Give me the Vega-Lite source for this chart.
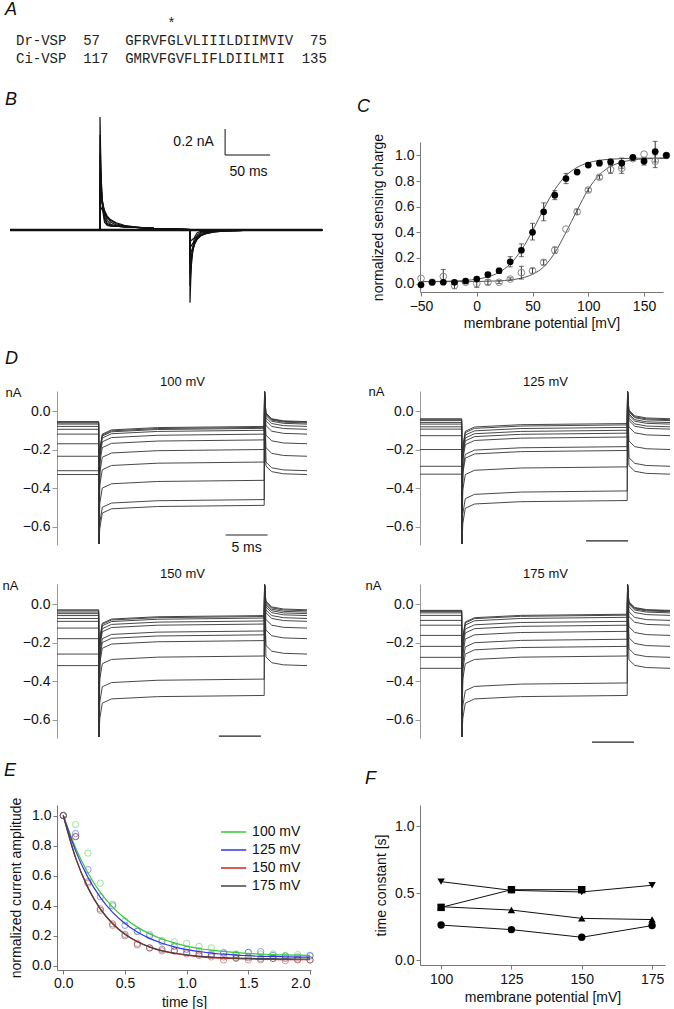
{
"$schema": "https://vega.github.io/schema/vega-lite/v6.json",
"padding": 0,
"background": "white",
"config": {
 "view": {"stroke": "transparent"},
 "font": "Liberation Sans",
 "axis": {"labelFont": "Liberation Sans", "titleFont": "Liberation Sans", "labelFontSize": 14, "titleFontSize": 14, "titleFontWeight": "normal", "labelColor": "#111", "titleColor": "#111", "domainColor": "#777", "tickColor": "#777", "tickSize": 4, "grid": false, "labelPadding": 2},
 "title": {"font": "Liberation Sans", "fontSize": 18, "fontStyle": "italic", "fontWeight": "normal", "anchor": "start", "color": "#111", "frame": "group"}
},
"resolve": {"legend": {"color": "independent"}, "scale": {"color": "independent"}},
"datasets": {
 "dtr": [
  {"p":"100 mV","tr":1,"t":[0,4.97,5.0,5.1,5.4,6.5,12,24.7,24.74,24.9,25.6,27,29.8],"i":[-0.055,-0.055,-0.69,-0.2,-0.12,-0.098,-0.086,-0.08,0.1,-0.01,-0.04,-0.051,-0.055]},
  {"p":"100 mV","tr":2,"t":[0,4.97,5.0,5.1,5.4,6.5,12,24.7,24.74,24.9,25.6,27,29.8],"i":[-0.058,-0.058,-0.69,-0.205,-0.125,-0.103,-0.091,-0.085,0.1,-0.013,-0.043,-0.054,-0.058]},
  {"p":"100 mV","tr":3,"t":[0,4.97,5.0,5.1,5.4,6.5,12,24.7,24.74,24.9,25.6,27,29.8],"i":[-0.062,-0.062,-0.69,-0.21,-0.13,-0.108,-0.096,-0.09,0.1,-0.017,-0.047,-0.058,-0.062]},
  {"p":"100 mV","tr":4,"t":[0,4.97,5.0,5.1,5.4,6.5,12,24.7,24.74,24.9,25.6,27,29.8],"i":[-0.068,-0.068,-0.69,-0.22,-0.14,-0.118,-0.106,-0.1,0.1,-0.023,-0.053,-0.064,-0.068]},
  {"p":"100 mV","tr":5,"t":[0,4.97,5.0,5.1,5.4,6.5,12,24.7,24.74,24.9,25.6,27,29.8],"i":[-0.08,-0.08,-0.69,-0.24,-0.16,-0.138,-0.126,-0.12,0.1,-0.035,-0.065,-0.076,-0.08]},
  {"p":"100 mV","tr":6,"t":[0,4.97,5.0,5.1,5.4,6.5,12,24.7,24.74,24.9,25.6,27,29.8],"i":[-0.095,-0.095,-0.69,-0.27,-0.19,-0.168,-0.156,-0.15,0.1,-0.05,-0.08,-0.091,-0.095]},
  {"p":"100 mV","tr":7,"t":[0,4.97,5.0,5.1,5.4,6.5,12,24.7,24.74,24.9,25.6,27,29.8],"i":[-0.12,-0.12,-0.69,-0.32,-0.24,-0.218,-0.206,-0.2,0.1,-0.075,-0.105,-0.116,-0.12]},
  {"p":"100 mV","tr":8,"t":[0,4.97,5.0,5.1,5.4,6.5,12,24.7,24.74,24.9,25.6,27,29.8],"i":[-0.17,-0.17,-0.69,-0.385,-0.305,-0.283,-0.271,-0.265,0.1,-0.125,-0.155,-0.166,-0.17]},
  {"p":"100 mV","tr":9,"t":[0,4.97,5.0,5.1,5.4,6.5,12,24.7,24.74,24.9,25.6,27,29.8],"i":[-0.235,-0.235,-0.69,-0.48,-0.4,-0.378,-0.366,-0.36,0.1,-0.19,-0.22,-0.231,-0.235]},
  {"p":"100 mV","tr":10,"t":[0,4.97,5.0,5.1,5.4,6.5,12,24.7,24.74,24.9,25.6,27,29.8],"i":[-0.31,-0.31,-0.69,-0.58,-0.5,-0.478,-0.466,-0.46,0.1,-0.265,-0.295,-0.306,-0.31]},
  {"p":"100 mV","tr":11,"t":[0,4.97,5.0,5.1,5.4,6.5,12,24.7,24.74,24.9,25.6,27,29.8],"i":[-0.33,-0.33,-0.69,-0.61,-0.53,-0.508,-0.496,-0.49,0.1,-0.285,-0.315,-0.326,-0.33]},
  {"p":"125 mV","tr":1,"t":[0,4.97,5.0,5.1,5.4,6.5,12,24.7,24.74,24.9,25.6,27,29.8],"i":[-0.04,-0.04,-0.69,-0.185,-0.105,-0.083,-0.071,-0.065,0.1,0.005,-0.025,-0.036,-0.04]},
  {"p":"125 mV","tr":2,"t":[0,4.97,5.0,5.1,5.4,6.5,12,24.7,24.74,24.9,25.6,27,29.8],"i":[-0.045,-0.045,-0.69,-0.192,-0.112,-0.09,-0.078,-0.072,0.1,0,-0.03,-0.041,-0.045]},
  {"p":"125 mV","tr":3,"t":[0,4.97,5.0,5.1,5.4,6.5,12,24.7,24.74,24.9,25.6,27,29.8],"i":[-0.05,-0.05,-0.69,-0.205,-0.125,-0.103,-0.091,-0.085,0.1,-0.005,-0.035,-0.046,-0.05]},
  {"p":"125 mV","tr":4,"t":[0,4.97,5.0,5.1,5.4,6.5,12,24.7,24.74,24.9,25.6,27,29.8],"i":[-0.06,-0.06,-0.69,-0.22,-0.14,-0.118,-0.106,-0.1,0.1,-0.015,-0.045,-0.056,-0.06]},
  {"p":"125 mV","tr":5,"t":[0,4.97,5.0,5.1,5.4,6.5,12,24.7,24.74,24.9,25.6,27,29.8],"i":[-0.068,-0.068,-0.69,-0.235,-0.155,-0.133,-0.121,-0.115,0.1,-0.023,-0.053,-0.064,-0.068]},
  {"p":"125 mV","tr":6,"t":[0,4.97,5.0,5.1,5.4,6.5,12,24.7,24.74,24.9,25.6,27,29.8],"i":[-0.082,-0.082,-0.69,-0.255,-0.175,-0.153,-0.141,-0.135,0.1,-0.037,-0.067,-0.078,-0.082]},
  {"p":"125 mV","tr":7,"t":[0,4.97,5.0,5.1,5.4,6.5,12,24.7,24.74,24.9,25.6,27,29.8],"i":[-0.094,-0.094,-0.69,-0.305,-0.225,-0.203,-0.191,-0.185,0.1,-0.049,-0.079,-0.09,-0.094]},
  {"p":"125 mV","tr":8,"t":[0,4.97,5.0,5.1,5.4,6.5,12,24.7,24.74,24.9,25.6,27,29.8],"i":[-0.128,-0.128,-0.69,-0.325,-0.245,-0.223,-0.211,-0.205,0.1,-0.083,-0.113,-0.124,-0.128]},
  {"p":"125 mV","tr":9,"t":[0,4.97,5.0,5.1,5.4,6.5,12,24.7,24.74,24.9,25.6,27,29.8],"i":[-0.2,-0.2,-0.69,-0.41,-0.33,-0.308,-0.296,-0.29,0.1,-0.155,-0.185,-0.196,-0.2]},
  {"p":"125 mV","tr":10,"t":[0,4.97,5.0,5.1,5.4,6.5,12,24.7,24.74,24.9,25.6,27,29.8],"i":[-0.287,-0.287,-0.69,-0.535,-0.455,-0.433,-0.421,-0.415,0.1,-0.242,-0.272,-0.283,-0.287]},
  {"p":"125 mV","tr":11,"t":[0,4.97,5.0,5.1,5.4,6.5,12,24.7,24.74,24.9,25.6,27,29.8],"i":[-0.328,-0.328,-0.69,-0.585,-0.505,-0.483,-0.471,-0.465,0.1,-0.283,-0.313,-0.324,-0.328]},
  {"p":"150 mV","tr":1,"t":[0,4.97,5.0,5.1,5.4,6.5,12,24.7,24.74,24.9,25.6,27,29.8],"i":[-0.03,-0.03,-0.69,-0.18,-0.1,-0.078,-0.066,-0.06,0.1,0.015,-0.015,-0.026,-0.03]},
  {"p":"150 mV","tr":2,"t":[0,4.97,5.0,5.1,5.4,6.5,12,24.7,24.74,24.9,25.6,27,29.8],"i":[-0.035,-0.035,-0.69,-0.185,-0.105,-0.083,-0.071,-0.065,0.1,0.01,-0.02,-0.031,-0.035]},
  {"p":"150 mV","tr":3,"t":[0,4.97,5.0,5.1,5.4,6.5,12,24.7,24.74,24.9,25.6,27,29.8],"i":[-0.042,-0.042,-0.69,-0.193,-0.113,-0.091,-0.079,-0.073,0.1,0.003,-0.027,-0.038,-0.042]},
  {"p":"150 mV","tr":4,"t":[0,4.97,5.0,5.1,5.4,6.5,12,24.7,24.74,24.9,25.6,27,29.8],"i":[-0.05,-0.05,-0.69,-0.208,-0.128,-0.106,-0.094,-0.088,0.1,-0.005,-0.035,-0.046,-0.05]},
  {"p":"150 mV","tr":5,"t":[0,4.97,5.0,5.1,5.4,6.5,12,24.7,24.74,24.9,25.6,27,29.8],"i":[-0.06,-0.06,-0.69,-0.224,-0.144,-0.122,-0.11,-0.104,0.1,-0.015,-0.045,-0.056,-0.06]},
  {"p":"150 mV","tr":6,"t":[0,4.97,5.0,5.1,5.4,6.5,12,24.7,24.74,24.9,25.6,27,29.8],"i":[-0.075,-0.075,-0.69,-0.26,-0.18,-0.158,-0.146,-0.14,0.1,-0.03,-0.06,-0.071,-0.075]},
  {"p":"150 mV","tr":7,"t":[0,4.97,5.0,5.1,5.4,6.5,12,24.7,24.74,24.9,25.6,27,29.8],"i":[-0.09,-0.09,-0.69,-0.28,-0.2,-0.178,-0.166,-0.16,0.1,-0.045,-0.075,-0.086,-0.09]},
  {"p":"150 mV","tr":8,"t":[0,4.97,5.0,5.1,5.4,6.5,12,24.7,24.74,24.9,25.6,27,29.8],"i":[-0.125,-0.125,-0.69,-0.31,-0.23,-0.208,-0.196,-0.19,0.1,-0.08,-0.11,-0.121,-0.125]},
  {"p":"150 mV","tr":9,"t":[0,4.97,5.0,5.1,5.4,6.5,12,24.7,24.74,24.9,25.6,27,29.8],"i":[-0.18,-0.18,-0.69,-0.39,-0.31,-0.288,-0.276,-0.27,0.1,-0.135,-0.165,-0.176,-0.18]},
  {"p":"150 mV","tr":10,"t":[0,4.97,5.0,5.1,5.4,6.5,12,24.7,24.74,24.9,25.6,27,29.8],"i":[-0.26,-0.26,-0.69,-0.51,-0.43,-0.408,-0.396,-0.39,0.1,-0.215,-0.245,-0.256,-0.26]},
  {"p":"150 mV","tr":11,"t":[0,4.97,5.0,5.1,5.4,6.5,12,24.7,24.74,24.9,25.6,27,29.8],"i":[-0.32,-0.32,-0.69,-0.595,-0.515,-0.493,-0.481,-0.475,0.1,-0.275,-0.305,-0.316,-0.32]},
  {"p":"175 mV","tr":1,"t":[0,4.97,5.0,5.1,5.4,6.5,12,24.7,24.74,24.9,25.6,27,29.8],"i":[-0.033,-0.033,-0.69,-0.173,-0.093,-0.071,-0.059,-0.053,0.1,0.012,-0.018,-0.029,-0.033]},
  {"p":"175 mV","tr":2,"t":[0,4.97,5.0,5.1,5.4,6.5,12,24.7,24.74,24.9,25.6,27,29.8],"i":[-0.036,-0.036,-0.69,-0.178,-0.098,-0.076,-0.064,-0.058,0.1,0.009,-0.021,-0.032,-0.036]},
  {"p":"175 mV","tr":3,"t":[0,4.97,5.0,5.1,5.4,6.5,12,24.7,24.74,24.9,25.6,27,29.8],"i":[-0.04,-0.04,-0.69,-0.189,-0.109,-0.087,-0.075,-0.069,0.1,0.005,-0.025,-0.036,-0.04]},
  {"p":"175 mV","tr":4,"t":[0,4.97,5.0,5.1,5.4,6.5,12,24.7,24.74,24.9,25.6,27,29.8],"i":[-0.046,-0.046,-0.69,-0.21,-0.13,-0.108,-0.096,-0.09,0.1,-0.001,-0.031,-0.042,-0.046]},
  {"p":"175 mV","tr":5,"t":[0,4.97,5.0,5.1,5.4,6.5,12,24.7,24.74,24.9,25.6,27,29.8],"i":[-0.059,-0.059,-0.69,-0.23,-0.15,-0.128,-0.116,-0.11,0.1,-0.014,-0.044,-0.055,-0.059]},
  {"p":"175 mV","tr":6,"t":[0,4.97,5.0,5.1,5.4,6.5,12,24.7,24.74,24.9,25.6,27,29.8],"i":[-0.085,-0.085,-0.69,-0.262,-0.182,-0.16,-0.148,-0.142,0.1,-0.04,-0.07,-0.081,-0.085]},
  {"p":"175 mV","tr":7,"t":[0,4.97,5.0,5.1,5.4,6.5,12,24.7,24.74,24.9,25.6,27,29.8],"i":[-0.11,-0.11,-0.69,-0.303,-0.223,-0.201,-0.189,-0.183,0.1,-0.065,-0.095,-0.106,-0.11]},
  {"p":"175 mV","tr":8,"t":[0,4.97,5.0,5.1,5.4,6.5,12,24.7,24.74,24.9,25.6,27,29.8],"i":[-0.163,-0.163,-0.69,-0.34,-0.26,-0.238,-0.226,-0.22,0.1,-0.118,-0.148,-0.159,-0.163]},
  {"p":"175 mV","tr":9,"t":[0,4.97,5.0,5.1,5.4,6.5,12,24.7,24.74,24.9,25.6,27,29.8],"i":[-0.22,-0.22,-0.69,-0.39,-0.31,-0.288,-0.276,-0.27,0.1,-0.175,-0.205,-0.216,-0.22]},
  {"p":"175 mV","tr":10,"t":[0,4.97,5.0,5.1,5.4,6.5,12,24.7,24.74,24.9,25.6,27,29.8],"i":[-0.277,-0.277,-0.69,-0.53,-0.45,-0.428,-0.416,-0.41,0.1,-0.232,-0.262,-0.273,-0.277]},
  {"p":"175 mV","tr":11,"t":[0,4.97,5.0,5.1,5.4,6.5,12,24.7,24.74,24.9,25.6,27,29.8],"i":[-0.334,-0.334,-0.69,-0.595,-0.515,-0.493,-0.481,-0.475,0.1,-0.289,-0.319,-0.33,-0.334]}
 ],
 "dbar": [
  {"p":"100 mV","t1":20.1,"t2":25.1,"y":-0.644},
  {"p":"125 mV","t1":19.8,"t2":24.8,"y":-0.675},
  {"p":"150 mV","t1":19.3,"t2":24.3,"y":-0.686},
  {"p":"175 mV","t1":20.5,"t2":25.5,"y":-0.717}
 ]
},
"columns": 4,
"bounds": "flush",
"align": "each",
"spacing": {"row": 0, "column": 0},
"concat": [
 {"width": 57, "height": 140, "data": {"values": []}, "mark": {"type": "point", "opacity": 0}, "encoding": {}},
 {
  "width": 250, "height": 140,
  "title": {"text": "A", "dx": -52, "offset": -17},
  "layer": [
   {
    "data": {"values": [
     {"col": 0, "row": 1.05, "txt": "Dr-VSP\u00a0\u00a057\u00a0\u00a0\u00a0GFRVFGLVLIIILDIIMVIV\u00a0\u00a075"},
     {"col": 0, "row": 2.05, "txt": "Ci-VSP\u00a0\u00a0117\u00a0\u00a0GMRVFGVFLIFLDIILMII\u00a0\u00a0135"}
    ]},
    "mark": {"type": "text", "align": "left", "baseline": "middle", "font": "Liberation Mono", "fontSize": 14, "color": "#222"},
    "encoding": {
     "x": {"field": "col", "type": "quantitative", "scale": {"domain": [4.881, 34.643], "nice": false, "zero": false}, "axis": null},
     "y": {"field": "row", "type": "quantitative", "scale": {"domain": [-1.111, 6.667], "reverse": true, "nice": false, "zero": false}, "axis": null},
     "text": {"field": "txt"}
    }
   },
   {
    "data": {"values": [{"col": 18.5, "row": 0.1, "txt": "*"}]},
    "mark": {"type": "text", "align": "center", "baseline": "middle", "font": "Liberation Mono", "fontSize": 14, "color": "#222"},
    "encoding": {
     "x": {"field": "col", "type": "quantitative"},
     "y": {"field": "row", "type": "quantitative"},
     "text": {"field": "txt"}
    }
   }
  ]
 },
 {"width": 109, "height": 1, "data": {"values": []}, "mark": {"type": "point", "opacity": 0}, "encoding": {}},
 {"width": 1, "height": 1, "data": {"values": []}, "mark": {"type": "point", "opacity": 0}, "encoding": {}},

 {"width": 57, "height": 1, "data": {"values": []}, "mark": {"type": "point", "opacity": 0}, "encoding": {}},
 {
  "width": 250, "height": 249,
  "title": {"text": "B", "dx": -52, "offset": 5.4},
  "layer": [
   {
    "data": {"values": [
     {"tr":1,"t":[0,99.9,100,101,102,103,105,108,112,118,127,140,160,199.9,200,201,202,203,205,208,212,218,227,240,260,299.9,347],"i":[0,0,0.87,0.48,0.26,0.15,0.06,0.035,0.03,0.03,0.025,0.02,0.012,0.004,-0.56,-0.344,-0.212,-0.133,-0.055,-0.02,-0.011,-0.01,-0.008,-0.005,-0.002,0,0]},
     {"tr":2,"t":[0,99.9,100,101,102,103,105,108,112,118,127,140,160,199.9,200,201,202,203,205,208,212,218,227,240,260,299.9,347],"i":[0,0,0.73,0.455,0.288,0.186,0.087,0.043,0.032,0.03,0.025,0.02,0.012,0.004,-0.43,-0.311,-0.225,-0.165,-0.089,-0.039,-0.018,-0.011,-0.008,-0.005,-0.002,0,0]},
     {"tr":3,"t":[0,99.9,100,101,102,103,105,108,112,118,127,140,160,199.9,200,201,202,203,205,208,212,218,227,240,260,299.9,347],"i":[0,0,0.58,0.398,0.277,0.196,0.104,0.053,0.034,0.03,0.025,0.02,0.012,0.004,-0.34,-0.267,-0.21,-0.166,-0.105,-0.055,-0.027,-0.014,-0.008,-0.005,-0.002,0,0]},
     {"tr":4,"t":[0,99.9,100,101,102,103,105,108,112,118,127,140,160,199.9,200,201,202,203,205,208,212,218,227,240,260,299.9,347],"i":[0,0,0.45,0.345,0.267,0.208,0.131,0.073,0.043,0.033,0.025,0.02,0.012,0.004,-0.26,-0.219,-0.184,-0.155,-0.111,-0.068,-0.038,-0.02,-0.01,-0.005,-0.002,0,0]},
     {"tr":5,"t":[0,99.9,100,101,102,103,105,108,112,118,127,140,160,199.9,200,201,202,203,205,208,212,218,227,240,260,299.9,347],"i":[0,0,0.35,0.292,0.244,0.206,0.148,0.095,0.059,0.039,0.026,0.02,0.012,0.004,-0.2,-0.175,-0.153,-0.134,-0.103,-0.071,-0.044,-0.024,-0.012,-0.006,-0.002,0,0]},
     {"tr":6,"t":[0,99.9,100,101,102,103,105,108,112,118,127,140,160,199.9,200,201,202,203,205,208,212,218,227,240,260,299.9,347],"i":[0,0,0.27,0.238,0.21,0.186,0.148,0.107,0.073,0.048,0.03,0.021,0.012,0.004,-0.14,-0.126,-0.114,-0.103,-0.085,-0.063,-0.044,-0.028,-0.015,-0.007,-0.002,0,0]},
     {"tr":7,"t":[0,99.9,100,101,102,103,105,108,112,118,127,140,160,199.9,200,201,202,203,205,208,212,218,227,240,260,299.9,347],"i":[0,0,0.19,0.175,0.161,0.149,0.127,0.102,0.078,0.056,0.036,0.023,0.012,0.004,-0.09,-0.083,-0.077,-0.071,-0.061,-0.049,-0.037,-0.026,-0.015,-0.007,-0.002,0,0]}
    ]},
    "transform": [{"flatten": ["t", "i"]}],
    "mark": {"type": "line", "color": "#111", "strokeWidth": 1.2},
    "encoding": {
     "x": {"field": "t", "type": "quantitative", "scale": {"domain": [52.2, 330], "nice": false, "zero": false}, "axis": null},
     "y": {"field": "i", "type": "quantitative", "scale": {"domain": [-1.238, 0.677], "nice": false, "zero": false}, "axis": null},
     "detail": {"field": "tr"}
    }
   },
   {
    "data": {"values": [{"t0": 0, "t1": 347, "base": 0}]},
    "mark": {"type": "rule", "color": "#111", "strokeWidth": 2.6},
    "encoding": {"x": {"field": "t0", "type": "quantitative"}, "x2": {"field": "t1"}, "y": {"field": "base", "type": "quantitative"}}
   },
   {
    "data": {"values": [{"x":239,"y":0.577,"x2":239,"y2":0.777},{"x":239,"y":0.577,"x2":289,"y2":0.577}]},
    "mark": {"type": "rule", "color": "#111", "strokeWidth": 1},
    "encoding": {
     "x": {"field": "x", "type": "quantitative"},
     "x2": {"field": "x2"},
     "y": {"field": "y", "type": "quantitative"},
     "y2": {"field": "y2"}
    }
   },
   {
    "data": {"values": [{"x":204,"y":0.677,"label":"0.2 nA"},{"x":265,"y":0.446,"label":"50 ms"}]},
    "mark": {"type": "text", "fontSize": 14, "color": "#111", "align": "center", "baseline": "middle"},
    "encoding": {
     "x": {"field": "x", "type": "quantitative"},
     "y": {"field": "y", "type": "quantitative"},
     "text": {"field": "label"}
    }
   }
  ]
 },
 {"width": 109, "height": 1, "data": {"values": []}, "mark": {"type": "point", "opacity": 0}, "encoding": {}},
 {
  "width": 243, "height": 150,
  "title": {"text": "C", "dx": -63, "offset": 17},
  "layer": [
   {
    "data": {"values": [
     {"g":"f","v":[-50,-40,-30,-20,-10,0,10,20,30,40,50,60,70,80,90,100,110,120,130,140,150,160,170],"q":[0.016,0.016,0.017,0.02,0.024,0.034,0.052,0.088,0.153,0.261,0.412,0.582,0.734,0.842,0.907,0.943,0.962,0.971,0.975,0.978,0.979,0.979,0.98]},
     {"g":"o","v":[-50,-40,-30,-20,-10,0,10,20,30,40,50,60,70,80,90,100,110,120,130,140,150,160,170],"q":[0.015,0.015,0.015,0.015,0.015,0.016,0.018,0.021,0.028,0.042,0.072,0.13,0.24,0.4,0.572,0.735,0.849,0.914,0.948,0.965,0.973,0.977,0.978]}
    ]},
    "transform": [{"flatten": ["v", "q"]}],
    "mark": {"type": "line", "color": "#555", "strokeWidth": 1, "interpolate": "monotone"},
    "encoding": {
     "x": {"field": "v", "type": "quantitative", "title": "membrane potential [mV]", "scale": {"domain": [-50.9, 167], "nice": false, "zero": false}, "axis": {"values": [-50, 0, 50, 100, 150], "tickCount": 20, "labelPadding": 3, "titlePadding": 3}},
     "y": {"field": "q", "type": "quantitative", "title": "normalized sensing charge", "scale": {"domain": [-0.066, 1.105], "nice": false, "zero": false}, "axis": {"values": [0, 0.2, 0.4, 0.6, 0.8, 1.0], "tickCount": 20, "format": ".1f", "titlePadding": 9}},
     "detail": {"field": "g"}
    }
   },
   {
    "data": {"values": [
     {"v":-10,"lo":0.01,"hi":0.03},{"v":0,"lo":0.02,"hi":0.05},{"v":10,"lo":0.05,"hi":0.085},{"v":20,"lo":0.08,"hi":0.12},{"v":30,"lo":0.13,"hi":0.21},{"v":40,"lo":0.21,"hi":0.31},{"v":50,"lo":0.34,"hi":0.47},{"v":60,"lo":0.49,"hi":0.63},{"v":70,"lo":0.655,"hi":0.725},{"v":80,"lo":0.78,"hi":0.86},{"v":100,"lo":0.91,"hi":0.945},{"v":110,"lo":0.92,"hi":0.96},{"v":120,"lo":0.93,"hi":0.97},{"v":130,"lo":0.9,"hi":0.98},{"v":150,"lo":0.925,"hi":0.985},{"v":160,"lo":0.95,"hi":1.11},
     {"v":-30,"lo":0.01,"hi":0.11},{"v":-20,"lo":-0.04,"hi":0.01},{"v":0,"lo":-0.03,"hi":0.03},{"v":10,"lo":-0.01,"hi":0.03},{"v":20,"lo":0.0,"hi":0.02},{"v":30,"lo":0.025,"hi":0.045},{"v":40,"lo":0.035,"hi":0.135},{"v":50,"lo":0.08,"hi":0.12},{"v":60,"lo":0.145,"hi":0.185},{"v":70,"lo":0.235,"hi":0.285},{"v":90,"lo":0.54,"hi":0.58},{"v":100,"lo":0.715,"hi":0.745},{"v":110,"lo":0.815,"hi":0.845},{"v":120,"lo":0.86,"hi":0.92},{"v":130,"lo":0.86,"hi":0.94},{"v":140,"lo":0.96,"hi":0.99},{"v":160,"lo":0.905,"hi":1.005}
    ]},
    "mark": {"type": "errorbar", "ticks": true, "color": "#333"},
    "encoding": {
     "x": {"field": "v", "type": "quantitative", "title": "membrane potential [mV]"},
     "y": {"field": "lo", "type": "quantitative", "title": "normalized sensing charge"},
     "y2": {"field": "hi"}
    }
   },
   {
    "data": {"values": [
     {"v":-50,"q":0.04},{"v":-40,"q":0.01},{"v":-30,"q":0.055},{"v":-20,"q":-0.015},{"v":-10,"q":0.01},{"v":0,"q":0.0},{"v":10,"q":0.01},{"v":20,"q":0.01},{"v":30,"q":0.035},{"v":40,"q":0.085},{"v":50,"q":0.1},{"v":60,"q":0.165},{"v":70,"q":0.26},{"v":80,"q":0.425},{"v":90,"q":0.56},{"v":100,"q":0.73},{"v":110,"q":0.83},{"v":120,"q":0.89},{"v":130,"q":0.9},{"v":140,"q":0.975},{"v":150,"q":1.01},{"v":160,"q":0.955},{"v":170,"q":1.0}
    ]},
    "mark": {"type": "point", "filled": false, "color": "#888", "size": 45, "strokeWidth": 1, "opacity": 1},
    "encoding": {
     "x": {"field": "v", "type": "quantitative", "title": "membrane potential [mV]"},
     "y": {"field": "q", "type": "quantitative", "title": "normalized sensing charge"}
    }
   },
   {
    "data": {"values": [
     {"v":-50,"q":-0.01},{"v":-40,"q":0.01},{"v":-30,"q":0.01},{"v":-20,"q":0.01},{"v":-10,"q":0.02},{"v":0,"q":0.035},{"v":10,"q":0.07},{"v":20,"q":0.1},{"v":30,"q":0.17},{"v":40,"q":0.26},{"v":50,"q":0.4},{"v":60,"q":0.56},{"v":70,"q":0.69},{"v":80,"q":0.82},{"v":90,"q":0.87},{"v":100,"q":0.925},{"v":110,"q":0.94},{"v":120,"q":0.95},{"v":130,"q":0.94},{"v":140,"q":0.985},{"v":150,"q":0.955},{"v":160,"q":1.03},{"v":170,"q":1.0}
    ]},
    "mark": {"type": "point", "filled": true, "color": "#000", "size": 45, "opacity": 1},
    "encoding": {
     "x": {"field": "v", "type": "quantitative", "title": "membrane potential [mV]"},
     "y": {"field": "q", "type": "quantitative", "title": "normalized sensing charge"}
    }
   }
  ]
 },

 {"width": 57, "height": 193, "data": {"values": []}, "mark": {"type": "point", "opacity": 0}, "encoding": {}},
 {
  "width": 250, "height": 154,
  "title": {"text": "D", "dx": -52, "offset": 7},
  "layer": [
   {
    "data": {"name": "dtr"},
    "transform": [{"filter": "datum.p == '100 mV'"}, {"flatten": ["t", "i"]}],
    "mark": {"type": "line", "color": "#333", "strokeWidth": 0.9},
    "encoding": {
     "x": {"field": "t", "type": "quantitative", "scale": {"domain": [0, 29.8], "nice": false, "zero": false}, "axis": {"orient": "top", "title": "100 mV", "domain": false, "ticks": false, "labels": false, "titlePadding": 3, "titleFontSize": 13}},
     "y": {"field": "i", "type": "quantitative", "scale": {"domain": [-0.696, 0.104], "nice": false, "zero": false}, "axis": {"values": [0, -0.2, -0.4, -0.6], "tickCount": 20, "format": ".1f", "title": "nA", "titleAngle": 0, "titleAlign": "left", "titleBaseline": "middle", "titleX": -52, "titleY": 1, "titleFontSize": 13, "domainColor": "#999", "tickColor": "#999", "tickSize": 5}},
     "detail": {"field": "tr"}
    }
   },
   {
    "data": {"name": "dbar"},
    "transform": [{"filter": "datum.p == '100 mV'"}],
    "mark": {"type": "rule", "color": "#222", "strokeWidth": 1.2},
    "encoding": {"x": {"field": "t1", "type": "quantitative"}, "x2": {"field": "t2"}, "y": {"field": "y", "type": "quantitative"}}
   },
   {
    "data": {"values": [{"t": 22.6, "y": -0.712, "label": "5 ms"}]},
    "mark": {"type": "text", "fontSize": 14, "color": "#111", "baseline": "middle"},
    "encoding": {"x": {"field": "t", "type": "quantitative"}, "y": {"field": "y", "type": "quantitative"}, "text": {"field": "label"}}
   }
  ]
 },
 {"width": 109, "height": 1, "data": {"values": []}, "mark": {"type": "point", "opacity": 0}, "encoding": {}},
 {
  "width": 250, "height": 154,
  "layer": [
   {
    "data": {"name": "dtr"},
    "transform": [{"filter": "datum.p == '125 mV'"}, {"flatten": ["t", "i"]}],
    "mark": {"type": "line", "color": "#333", "strokeWidth": 0.9},
    "encoding": {
     "x": {"field": "t", "type": "quantitative", "scale": {"domain": [0, 29.8], "nice": false, "zero": false}, "axis": {"orient": "top", "title": "125 mV", "domain": false, "ticks": false, "labels": false, "titlePadding": 3, "titleFontSize": 13}},
     "y": {"field": "i", "type": "quantitative", "scale": {"domain": [-0.696, 0.104], "nice": false, "zero": false}, "axis": {"values": [0, -0.2, -0.4, -0.6], "tickCount": 20, "format": ".1f", "title": "nA", "titleAngle": 0, "titleAlign": "left", "titleBaseline": "middle", "titleX": -52, "titleY": 0, "titleFontSize": 13, "domainColor": "#999", "tickColor": "#999", "tickSize": 5}},
     "detail": {"field": "tr"}
    }
   },
   {
    "data": {"name": "dbar"},
    "transform": [{"filter": "datum.p == '125 mV'"}],
    "mark": {"type": "rule", "color": "#222", "strokeWidth": 1.2},
    "encoding": {"x": {"field": "t1", "type": "quantitative"}, "x2": {"field": "t2"}, "y": {"field": "y", "type": "quantitative"}}
   }
  ]
 },

 {"width": 57, "height": 221, "data": {"values": []}, "mark": {"type": "point", "opacity": 0}, "encoding": {}},
 {
  "width": 250, "height": 154,
  "layer": [
   {
    "data": {"name": "dtr"},
    "transform": [{"filter": "datum.p == '150 mV'"}, {"flatten": ["t", "i"]}],
    "mark": {"type": "line", "color": "#333", "strokeWidth": 0.9},
    "encoding": {
     "x": {"field": "t", "type": "quantitative", "scale": {"domain": [0, 29.8], "nice": false, "zero": false}, "axis": {"orient": "top", "title": "150 mV", "domain": false, "ticks": false, "labels": false, "titlePadding": 4, "titleFontSize": 13}},
     "y": {"field": "i", "type": "quantitative", "scale": {"domain": [-0.696, 0.104], "nice": false, "zero": false}, "axis": {"values": [0, -0.2, -0.4, -0.6], "tickCount": 20, "format": ".1f", "title": "nA", "titleAngle": 0, "titleAlign": "left", "titleBaseline": "middle", "titleX": -55, "titleY": 1, "titleFontSize": 13, "domainColor": "#999", "tickColor": "#999", "tickSize": 5}},
     "detail": {"field": "tr"}
    }
   },
   {
    "data": {"name": "dbar"},
    "transform": [{"filter": "datum.p == '150 mV'"}],
    "mark": {"type": "rule", "color": "#222", "strokeWidth": 1.2},
    "encoding": {"x": {"field": "t1", "type": "quantitative"}, "x2": {"field": "t2"}, "y": {"field": "y", "type": "quantitative"}}
   }
  ]
 },
 {"width": 109, "height": 1, "data": {"values": []}, "mark": {"type": "point", "opacity": 0}, "encoding": {}},
 {
  "width": 250, "height": 154,
  "layer": [
   {
    "data": {"name": "dtr"},
    "transform": [{"filter": "datum.p == '175 mV'"}, {"flatten": ["t", "i"]}],
    "mark": {"type": "line", "color": "#333", "strokeWidth": 0.9},
    "encoding": {
     "x": {"field": "t", "type": "quantitative", "scale": {"domain": [0, 29.8], "nice": false, "zero": false}, "axis": {"orient": "top", "title": "175 mV", "domain": false, "ticks": false, "labels": false, "titlePadding": 4, "titleFontSize": 13}},
     "y": {"field": "i", "type": "quantitative", "scale": {"domain": [-0.696, 0.104], "nice": false, "zero": false}, "axis": {"values": [0, -0.2, -0.4, -0.6], "tickCount": 20, "format": ".1f", "title": "nA", "titleAngle": 0, "titleAlign": "left", "titleBaseline": "middle", "titleX": -55, "titleY": 1, "titleFontSize": 13, "domainColor": "#999", "tickColor": "#999", "tickSize": 5}},
     "detail": {"field": "tr"}
    }
   },
   {
    "data": {"name": "dbar"},
    "transform": [{"filter": "datum.p == '175 mV'"}],
    "mark": {"type": "rule", "color": "#222", "strokeWidth": 1.2},
    "encoding": {"x": {"field": "t1", "type": "quantitative"}, "x2": {"field": "t2"}, "y": {"field": "y", "type": "quantitative"}}
   }
  ]
 },

 {"width": 57, "height": 1, "data": {"values": []}, "mark": {"type": "point", "opacity": 0}, "encoding": {}},
 {
  "width": 254, "height": 165,
  "title": {"text": "E", "dx": -53, "offset": 17},
  "resolve": {"legend": {"color": "shared"}},
  "layer": [
   {
    "data": {"values": [
     {"s":"100 mV","t":[0,0.1,0.2,0.3,0.4,0.5,0.6,0.7,0.8,0.9,1.0,1.1,1.2,1.3,1.4,1.5,1.6,1.7,1.8,1.9,2.0],"v":[1.0,0.94,0.75,0.55,0.41,0.3,0.23,0.21,0.17,0.16,0.15,0.13,0.12,0.09,0.08,0.09,0.08,0.08,0.07,0.075,0.065]},
     {"s":"125 mV","t":[0,0.1,0.2,0.3,0.4,0.5,0.6,0.7,0.8,0.9,1.0,1.1,1.2,1.3,1.4,1.5,1.6,1.7,1.8,1.9,2.0],"v":[1.0,0.88,0.64,0.46,0.4,0.27,0.23,0.2,0.16,0.13,0.11,0.1,0.08,0.085,0.075,0.09,0.095,0.07,0.065,0.06,0.07]},
     {"s":"150 mV","t":[0,0.1,0.2,0.3,0.4,0.5,0.6,0.7,0.8,0.9,1.0,1.1,1.2,1.3,1.4,1.5,1.6,1.7,1.8,1.9,2.0],"v":[1.0,0.86,0.55,0.38,0.27,0.21,0.15,0.12,0.1,0.1,0.08,0.07,0.06,0.04,0.05,0.04,0.04,0.05,0.035,0.04,0.04]},
     {"s":"175 mV","t":[0,0.1,0.2,0.3,0.4,0.5,0.6,0.7,0.8,0.9,1.0,1.1,1.2,1.3,1.4,1.5,1.6,1.7,1.8,1.9,2.0],"v":[1.0,0.86,0.56,0.37,0.28,0.2,0.14,0.12,0.11,0.1,0.09,0.08,0.07,0.06,0.055,0.055,0.05,0.05,0.05,0.045,0.04]}
    ]},
    "transform": [{"flatten": ["t", "v"]}],
    "mark": {"type": "point", "filled": false, "size": 40, "strokeWidth": 1, "opacity": 0.5},
    "encoding": {
     "x": {"field": "t", "type": "quantitative", "title": "time [s]", "scale": {"domain": [-0.051, 2.008], "nice": false, "zero": false}, "axis": {"values": [0, 0.5, 1, 1.5, 2], "tickCount": 20, "format": ".1f", "labelPadding": 2, "titlePadding": 5}},
     "y": {"field": "v", "type": "quantitative", "title": "normalized current amplitude", "scale": {"domain": [-0.027, 1.07], "nice": false, "zero": false}, "axis": {"values": [0, 0.2, 0.4, 0.6, 0.8, 1.0], "tickCount": 20, "format": ".1f", "titlePadding": 8}},
     "color": {"field": "s", "type": "nominal", "scale": {"domain": ["100 mV", "125 mV", "150 mV", "175 mV"], "range": ["#33cc33", "#3333ee", "#cc2222", "#444444"]},
      "legend": {"title": null, "orient": "none", "legendX": 166.6, "legendY": 17, "symbolType": "M-1.4,0H1.4", "symbolSize": 324, "symbolStrokeWidth": 1.5, "symbolOpacity": 1, "labelFontSize": 14, "labelFont": "Liberation Sans", "labelColor": "#111", "labelOffset": 8.5, "rowPadding": 1, "padding": 0}}
    }
   },
   {
    "data": {"values": [
     {"s":"100 mV","t":[0,0.1,0.2,0.3,0.4,0.5,0.6,0.7,0.8,0.9,1.0,1.1,1.2,1.3,1.4,1.5,1.6,1.7,1.8,1.9,2.0],"v":[1.0,0.784,0.618,0.489,0.391,0.316,0.258,0.213,0.179,0.153,0.132,0.116,0.105,0.096,0.088,0.083,0.079,0.075,0.073,0.072,0.07]},
     {"s":"125 mV","t":[0,0.1,0.2,0.3,0.4,0.5,0.6,0.7,0.8,0.9,1.0,1.1,1.2,1.3,1.4,1.5,1.6,1.7,1.8,1.9,2.0],"v":[1.0,0.765,0.589,0.456,0.356,0.282,0.225,0.183,0.151,0.127,0.109,0.096,0.085,0.078,0.072,0.068,0.064,0.063,0.061,0.059,0.058]},
     {"s":"150 mV","t":[0,0.1,0.2,0.3,0.4,0.5,0.6,0.7,0.8,0.9,1.0,1.1,1.2,1.3,1.4,1.5,1.6,1.7,1.8,1.9,2.0],"v":[1.0,0.72,0.522,0.381,0.282,0.211,0.161,0.125,0.1,0.083,0.071,0.062,0.055,0.051,0.048,0.046,0.044,0.043,0.042,0.041,0.041]},
     {"s":"175 mV","t":[0,0.1,0.2,0.3,0.4,0.5,0.6,0.7,0.8,0.9,1.0,1.1,1.2,1.3,1.4,1.5,1.6,1.7,1.8,1.9,2.0],"v":[1.0,0.717,0.519,0.378,0.28,0.21,0.162,0.127,0.102,0.086,0.074,0.065,0.059,0.055,0.052,0.05,0.049,0.048,0.047,0.046,0.046]}
    ]},
    "transform": [{"flatten": ["t", "v"]}],
    "mark": {"type": "line", "strokeWidth": 1.2, "interpolate": "monotone"},
    "encoding": {
     "x": {"field": "t", "type": "quantitative", "title": "time [s]"},
     "y": {"field": "v", "type": "quantitative", "title": "normalized current amplitude"},
     "color": {"field": "s", "type": "nominal", "scale": {"domain": ["100 mV", "125 mV", "150 mV", "175 mV"], "range": ["#33cc33", "#3333ee", "#cc2222", "#444444"]},
      "legend": {"title": null, "orient": "none", "legendX": 166.6, "legendY": 17, "symbolType": "M-1.4,0H1.4", "symbolSize": 324, "symbolStrokeWidth": 1.5, "symbolOpacity": 1, "labelFontSize": 14, "labelFont": "Liberation Sans", "labelColor": "#111", "labelOffset": 8.5, "rowPadding": 1, "padding": 0}}
    }
   }
  ]
 },
 {"width": 109, "height": 1, "data": {"values": []}, "mark": {"type": "point", "opacity": 0}, "encoding": {}},
 {
  "width": 245, "height": 160,
  "title": {"text": "F", "dx": -55, "offset": 17},
  "data": {"values": [
   {"s":"a","v":100,"tau":0.587},{"s":"a","v":125,"tau":0.522},{"s":"a","v":150,"tau":0.51},{"s":"a","v":175,"tau":0.56},
   {"s":"b","v":100,"tau":0.395},{"s":"b","v":125,"tau":0.527},{"s":"b","v":150,"tau":0.527},
   {"s":"c","v":100,"tau":0.4},{"s":"c","v":125,"tau":0.375},{"s":"c","v":150,"tau":0.313},{"s":"c","v":175,"tau":0.304},
   {"s":"d","v":100,"tau":0.263},{"s":"d","v":125,"tau":0.229},{"s":"d","v":150,"tau":0.172},{"s":"d","v":175,"tau":0.259}
  ]},
  "layer": [
   {
    "mark": {"type": "line", "color": "#111", "strokeWidth": 1},
    "encoding": {
     "x": {"field": "v", "type": "quantitative", "title": "membrane potential [mV]", "scale": {"domain": [92.5, 179.6], "nice": false, "zero": false}, "axis": {"values": [100, 125, 150, 175], "tickCount": 20, "labelPadding": 3, "titlePadding": 4}},
     "y": {"field": "tau", "type": "quantitative", "title": "time constant [s]", "scale": {"domain": [-0.035, 1.159], "nice": false, "zero": false}, "axis": {"values": [0, 0.5, 1.0], "tickCount": 20, "format": ".1f", "titlePadding": 6}},
     "detail": {"field": "s"}
    }
   },
   {
    "mark": {"type": "point", "filled": true, "color": "#000", "size": 55, "opacity": 1},
    "encoding": {
     "x": {"field": "v", "type": "quantitative"},
     "y": {"field": "tau", "type": "quantitative"},
     "shape": {"field": "s", "type": "nominal", "scale": {"domain": ["a", "b", "c", "d"], "range": ["triangle-down", "square", "triangle-up", "circle"]}, "legend": null}
    }
   }
  ]
 }
]
}
